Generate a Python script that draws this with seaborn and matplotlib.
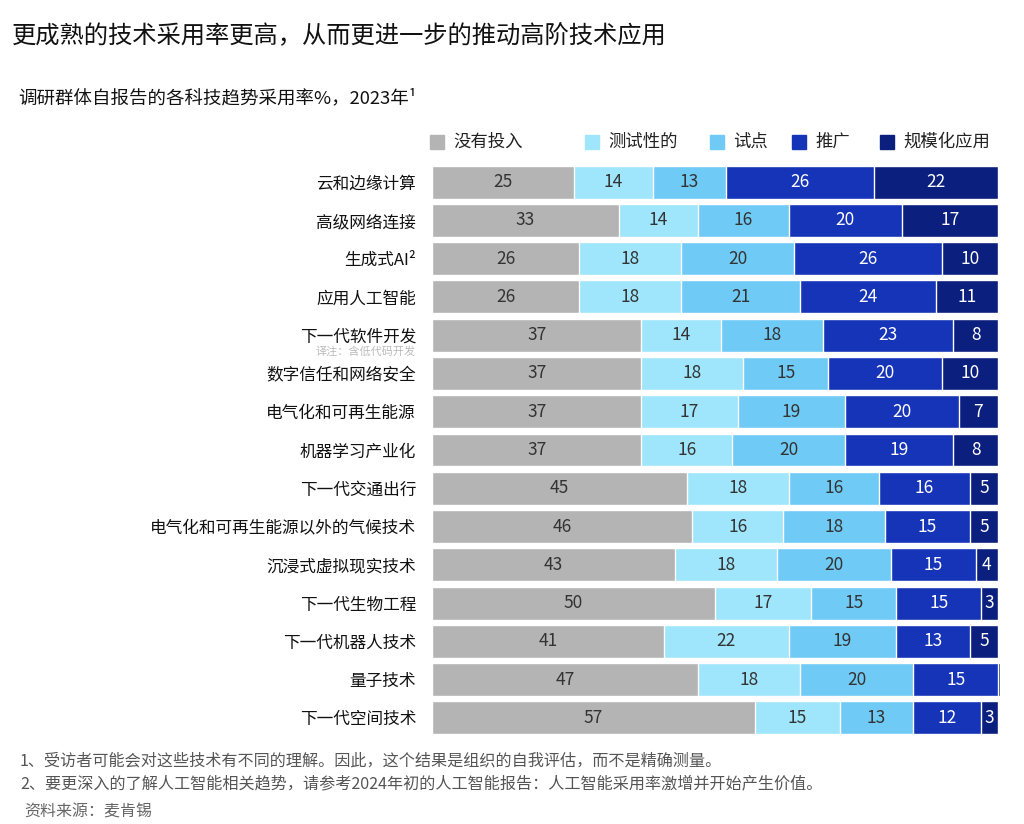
import numpy as np
import pandas as pd
import seaborn as sns
import matplotlib.pyplot as plt
from matplotlib.patches import Rectangle

categories = [
    "云和边缘计算", "高级网络连接", "生成式AI²", "应用人工智能", "下一代软件开发",
    "数字信任和网络安全", "电气化和可再生能源", "机器学习产业化", "下一代交通出行",
    "电气化和可再生能源以外的气候技术", "沉浸式虚拟现实技术", "下一代生物工程",
    "下一代机器人技术", "量子技术", "下一代空间技术",
]
no_invest = [25, 33, 26, 26, 37, 37, 37, 37, 45, 46, 43, 50, 41, 47, 57]
testing = [14, 14, 18, 18, 14, 18, 17, 16, 18, 16, 18, 17, 22, 18, 15]
pilot = [13, 16, 20, 21, 18, 15, 19, 20, 16, 18, 20, 15, 19, 20, 13]
scaling = [26, 20, 26, 24, 23, 20, 20, 19, 16, 15, 15, 15, 13, 15, 12]
scaled = [22, 17, 10, 11, 8, 10, 7, 8, 5, 5, 4, 3, 5, 0.4, 3]

series_names = ["没有投入", "测试性的", "试点", "推广", "规模化应用"]
colors = ["#b4b4b4", "#9fe6fd", "#6fcaf6", "#1634b8", "#0a1f7e"]
text_colors = ["#333333", "#333333", "#333333", "white", "white"]

sns.set_theme(style="white")
plt.rcParams["font.family"] = ["Noto Sans CJK SC", "DejaVu Sans"]

df = pd.DataFrame({"tech": categories, "s0": no_invest, "s1": testing,
                   "s2": pilot, "s3": scaling, "s4": scaled})
vals = df[["s0", "s1", "s2", "s3", "s4"]].to_numpy(dtype=float)
cum = np.cumsum(vals, axis=1)
for i in range(5):
    df[f"c{i}"] = cum[:, i]

fig = plt.figure(figsize=(10.24, 8.24), dpi=100)
ax = fig.add_axes([432 / 1024, 1 - 737 / 824, 569 / 1024, 574 / 824])

# stacked bars: draw the longest cumulative first, then overlay shorter ones
for i in range(4, -1, -1):
    sns.barplot(data=df, x=f"c{i}", y="tech", order=categories, orient="h",
                color=colors[i], width=0.86, edgecolor="white", linewidth=1,
                saturation=1, ax=ax)

for r in range(len(categories)):
    for i in range(5):
        v = vals[r, i]
        if v < 1:
            continue
        ax.text(cum[r, i] - v / 2, r, f"{v:g}", ha="center", va="center",
                fontsize=12.5, color=text_colors[i])

ax.set_xlim(0, 100.5)
ax.set_ylim(14.5, -0.5)
ax.set_xlabel("")
ax.set_ylabel("")
ax.set_xticks([])
sns.despine(ax=ax, left=True, bottom=True)
ax.tick_params(axis="y", length=0, pad=11.5, labelsize=12, labelcolor="#111111")

# note under software row
fig.text(416 / 1024, 1 - 351 / 824, "译注：含低代码开发", ha="right", va="center",
         fontsize=8, color="#bbbbbb")

# legend
leg_x = [430, 585, 710, 792, 880]
for i in range(5):
    fig.patches.append(Rectangle((leg_x[i] / 1024, 1 - 149 / 824), 14 / 1024, 14 / 824,
                                 transform=fig.transFigure, color=colors[i]))
    fig.text((leg_x[i] + 23) / 1024, 1 - 142 / 824, series_names[i], ha="left",
             va="center", fontsize=12.5, color="#222222")

fig.text(12 / 1024, 1 - 36 / 824, "更成熟的技术采用率更高，从而更进一步的推动高阶技术应用",
         ha="left", va="center", fontsize=17.5, color="#111111", fontweight="medium")
fig.text(18 / 1024, 1 - 98 / 824, "调研群体自报告的各科技趋势采用率%，2023年¹",
         ha="left", va="center", fontsize=13.3, color="#111111")

fig.text(20 / 1024, 1 - 761 / 824,
         "1、受访者可能会对这些技术有不同的理解。因此，这个结果是组织的自我评估，而不是精确测量。",
         ha="left", va="center", fontsize=11.6, color="#555555")
fig.text(20 / 1024, 1 - 784 / 824,
         "2、要更深入的了解人工智能相关趋势，请参考2024年初的人工智能报告：人工智能采用率激增并开始产生价值。",
         ha="left", va="center", fontsize=11.6, color="#555555")
fig.text(24 / 1024, 1 - 812 / 824, "资料来源：麦肯锡", ha="left", va="center",
         fontsize=11.5, color="#666666")

fig.savefig("out.png", dpi=100)
